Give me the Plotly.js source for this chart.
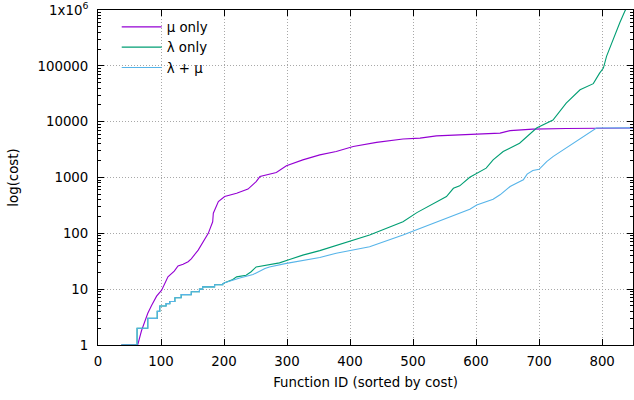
<!DOCTYPE html>
<html><head><meta charset="utf-8">
<script src="https://cdn.plot.ly/plotly-3.0.1.min.js"></script>
<style>html,body{margin:0;padding:0;background:#fff}#chart{width:634px;height:400px}</style>
</head><body><div id="chart"></div>
<script>
// Shared stepped start (identical for "λ only" and "λ + μ")
const stepX = [37, 62, 62, 79, 79, 94, 94, 98, 98, 108, 108, 114, 114, 122, 122, 132, 132, 148, 148, 161, 161, 166, 166, 185, 185, 198, 198];
const stepY = [1, 1, 2, 2, 3, 3, 4, 4, 5, 5, 5.5, 5.5, 6, 6, 7, 7, 8, 8, 9, 9, 10, 10, 11, 11, 12, 12, 12.5];

// μ only
const muX = [37, 63, 69, 74, 79, 85, 93, 101, 106, 111, 121, 127, 135, 143, 148, 159, 175, 182, 183, 191, 201, 220, 238, 246, 251, 257, 272, 283, 299, 325, 352, 378, 405, 442, 484, 511, 537, 590, 638, 654, 690, 743, 791, 849];
const muY = [1, 1, 1.8, 2.6, 3.7, 5.1, 7.5, 9.6, 12.6, 16.6, 21, 26, 28, 31, 35, 50, 100, 161, 229, 370, 455, 523, 620, 740, 845, 1040, 1160, 1230, 1620, 2070, 2540, 2920, 3590, 4260, 4890, 5070, 5560, 6000, 6240, 6900, 7360, 7550, 7680, 7700];

// λ only (continuation after the shared steps)
const lamTailX = [201, 214, 220, 235, 243, 251, 272, 288, 304, 325, 352, 378, 400, 431, 458, 484, 506, 537, 553, 564, 574, 590, 601, 616, 627, 643, 669, 696, 722, 743, 765, 786, 796, 802, 807, 817, 828, 836, 845];
const lamTailY = [13, 14.9, 16.6, 17.8, 20.5, 25, 28, 29.6, 34, 40.7, 49, 60, 71, 93, 123, 161, 235, 370, 455, 640, 710, 1010, 1200, 1470, 2070, 2920, 4120, 7680, 10700, 21500, 37300, 48000, 74000, 91000, 148000, 295000, 590000, 950000, 1500000];

// λ + μ (continuation after the shared steps)
const bothTailX = [201, 225, 246, 265, 272, 299, 325, 352, 378, 431, 484, 511, 537, 564, 590, 601, 627, 638, 654, 664, 675, 681, 690, 700, 712, 722, 746, 770, 775, 791, 849];
const bothTailY = [13, 15.9, 18.3, 23.5, 25, 29, 33, 37, 44, 57.6, 93, 123, 161, 213, 270, 322, 407, 490, 690, 790, 910, 1150, 1330, 1400, 1930, 2370, 3590, 5400, 5820, 7680, 7750];

const yTickVals = [1, 10, 100, 1000, 10000, 100000, 1000000];
const yTickText = ['1', '10', '100', '1000', '10000', '100000', '1x10<sup>6</sup>'];
const xTickVals = [0, 100, 200, 300, 400, 500, 600, 700, 800];

const seriesNames = ['μ only', 'λ only', 'λ + μ'];
const seriesColors = ['#9400d3', '#009e73', '#56b4e9'];

const minorVals = [];
for (let d = 0; d < 6; d++) for (let k = 2; k <= 9; k++) minorVals.push(k * Math.pow(10, d));

const traces = [
  {x: muX, y: muY, name: seriesNames[0]},
  {x: stepX.concat(lamTailX), y: stepY.concat(lamTailY), name: seriesNames[1]},
  {x: stepX.concat(bothTailX), y: stepY.concat(bothTailY), name: seriesNames[2]}
].map((t, i) => Object.assign(t, {type: 'scatter', mode: 'lines', line: {color: seriesColors[i], width: 1.1}}));

const font = {family: 'DejaVu Sans, sans-serif', size: 13.33, color: '#000'};

const layout = {
  width: 634, height: 400,
  margin: {l: 98, r: 1, t: 10, b: 55, pad: 0},
  paper_bgcolor: '#fff', plot_bgcolor: '#fff',
  font: font,
  showlegend: true,
  legend: {x: 0.035, y: 0.995, xanchor: 'left', yanchor: 'top', bgcolor: 'rgba(0,0,0,0)', font: font, itemwidth: 40, tracegroupgap: 0},
  xaxis: {
    range: [0, 849], tickvals: xTickVals, tickmode: 'array',
    ticks: 'inside', ticklen: 6, tickcolor: '#000', tickwidth: 1,
    showline: true, linecolor: '#000', linewidth: 1, mirror: 'allticks',
    showgrid: true, gridcolor: '#a8a8a8', griddash: '1px,2px', gridwidth: 1,
    zeroline: false, automargin: false, ticklabelstandoff: 4,
    title: {text: 'Function ID (sorted by cost)', font: font, standoff: 9}
  },
  yaxis: {
    type: 'log', range: [0, 6], tickmode: 'array', tickvals: yTickVals, ticktext: yTickText,
    ticks: 'inside', ticklen: 6, tickcolor: '#000', tickwidth: 1,
    showline: true, linecolor: '#000', linewidth: 1, mirror: 'allticks',
    showgrid: true, gridcolor: '#a8a8a8', griddash: '1px,2px', gridwidth: 1,
    zeroline: false, automargin: false, ticklabelstandoff: 6,
    minor: {tickmode: 'array', tickvals: minorVals, ticks: 'inside', ticklen: 3, tickcolor: '#000', showgrid: false},
    title: {text: 'log(cost)', font: font, standoff: 15}
  }
};

Plotly.newPlot('chart', traces, layout, {staticPlot: true, displayModeBar: false});
</script></body></html>
